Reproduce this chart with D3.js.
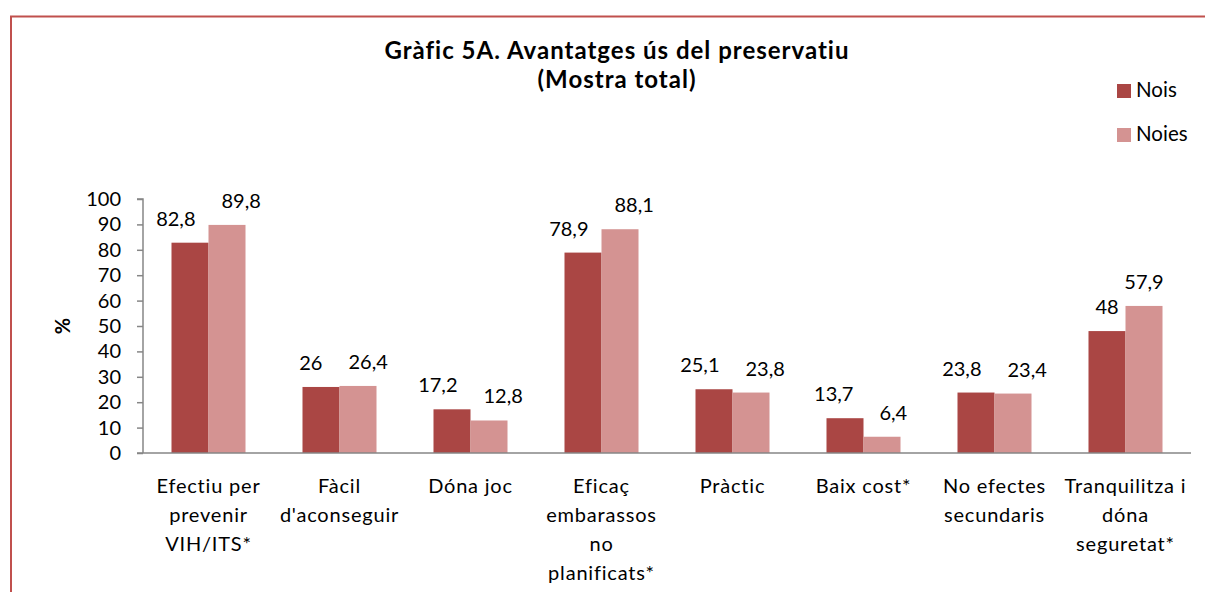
<!DOCTYPE html>
<html>
<head>
<meta charset="utf-8">
<script src="https://cdn.jsdelivr.net/npm/d3@7"></script>
<style>
  body { margin: 0; background: #fff; }
  svg { display: block; font-family: Lato, "Open Sans", sans-serif; }
</style>
</head>
<body>
<svg id="chart" width="1205" height="592"></svg>
<script>
const categories = [
  ['Efectiu per', 'prevenir', 'VIH/ITS*'],
  ['Fàcil', "d'aconseguir"],
  ['Dóna joc'],
  ['Eficaç', 'embarassos', 'no', 'planificats*'],
  ['Pràctic'],
  ['Baix cost*'],
  ['No efectes', 'secundaris'],
  ['Tranquilitza i', 'dóna', 'seguretat*']
];
const nois = [82.8, 26, 17.2, 78.9, 25.1, 13.7, 23.8, 48];
const noies = [89.8, 26.4, 12.8, 88.1, 23.8, 6.4, 23.4, 57.9];
const seriesNames = ['Nois', 'Noies'];
const colors = ['#aa4644', '#d49392'];
const yTicks = [0, 10, 20, 30, 40, 50, 60, 70, 80, 90, 100];

const svg = d3.select('#chart');
const margin = { left: 143, right: 14, top: 199, bottom: 139 };
const W = 1205, H = 592;

// frame
svg.append('rect')
  .attr('x', 11).attr('y', 16.5)
  .attr('width', W + 10).attr('height', H + 10)
  .attr('fill', 'none')
  .attr('stroke', '#c0504d')
  .attr('stroke-width', 2);

const x = d3.scaleBand().domain(d3.range(categories.length))
  .range([margin.left, W - margin.right]);
const xs = d3.scaleBand().domain([0, 1]).range([0, x.bandwidth()]).paddingInner(0).paddingOuter(0.77);
const y = d3.scaleLinear().domain([0, 100]).range([H - margin.bottom, margin.top]);

// y axis
const yAxis = svg.append('g')
  .attr('transform', `translate(${margin.left},0)`)
  .call(d3.axisLeft(y).tickValues(yTicks).tickSize(6).tickPadding(16).tickFormat(d3.format('d')));
yAxis.selectAll('path, line').attr('stroke', '#868686').attr('stroke-width', 1.5);
yAxis.select('.domain').attr('d', `M-6,${y(100)}H0V${y(0)}`);
yAxis.selectAll('text').attr('font-size', 20).attr('fill', '#000').attr('font-family', 'Lato');

// bars
const groups = svg.append('g').selectAll('g')
  .data(categories.map((c, i) => ({ i, vals: [nois[i], noies[i]] })))
  .join('g')
  .attr('transform', d => `translate(${x(d.i)},0)`);

groups.selectAll('rect')
  .data(d => d.vals.map((v, s) => ({ v, s })))
  .join('rect')
  .attr('x', d => xs(d.s))
  .attr('width', xs.bandwidth())
  .attr('y', d => y(d.v))
  .attr('height', d => y(0) - y(d.v))
  .attr('fill', d => colors[d.s]);

// value labels, pushed apart sideways when a pair would collide
groups.each(function(d) {
  const g = d3.select(this);
  const labels = d.vals.map((v, s) => g.append('text')
    .attr('x', xs(s) + xs.bandwidth() / 2)
    .attr('y', y(v) - 17)
    .attr('text-anchor', 'middle')
    .attr('font-size', 20)
    .text(String(v).replace('.', ',')));
  const dy = Math.abs(y(d.vals[0]) - y(d.vals[1]));
  if (dy < 24) {
    const w0 = labels[0].node().getComputedTextLength();
    const w1 = labels[1].node().getComputedTextLength();
    const need = (w0 + w1) / 2 + 26 - xs.bandwidth();
    if (need > 0) {
      labels[0].attr('x', +labels[0].attr('x') - need / 2);
      labels[1].attr('x', +labels[1].attr('x') + need / 2);
    }
  }
});

// x axis line
svg.append('line')
  .attr('x1', margin.left - 6).attr('x2', W - margin.right)
  .attr('y1', y(0)).attr('y2', y(0))
  .attr('stroke', '#868686').attr('stroke-width', 1.5);

// category labels
groups.append('text')
  .attr('text-anchor', 'middle')
  .attr('font-size', 20)
  .attr('letter-spacing', 0.8)
  .selectAll('tspan')
  .data(d => categories[d.i])
  .join('tspan')
  .attr('x', x.bandwidth() / 2)
  .attr('y', (d, k) => 493 + k * 29)
  .text(d => d);

// y title
svg.append('text')
  .attr('transform', `translate(70,${(y(0) + y(100)) / 2}) rotate(-90)`)
  .attr('text-anchor', 'middle')
  .attr('font-size', 20).attr('font-weight', 'bold')
  .text('%');

// title
const title = svg.append('text')
  .attr('text-anchor', 'middle')
  .attr('font-size', 24).attr('font-weight', 'bold')
  .attr('letter-spacing', 1);
title.append('tspan').attr('x', 617).attr('y', 59).text('Gràfic 5A. Avantatges ús del preservatiu');
title.append('tspan').attr('x', 617).attr('y', 88).text('(Mostra total)');

// legend
const legend = svg.append('g').selectAll('g')
  .data(seriesNames)
  .join('g')
  .attr('transform', (d, i) => `translate(1117,${84 + i * 44})`);
legend.append('rect').attr('width', 14).attr('height', 14).attr('fill', (d, i) => colors[i]);
legend.append('text').attr('x', 19).attr('y', 13).attr('font-size', 20.5).text(d => d);
</script>
</body>
</html>
